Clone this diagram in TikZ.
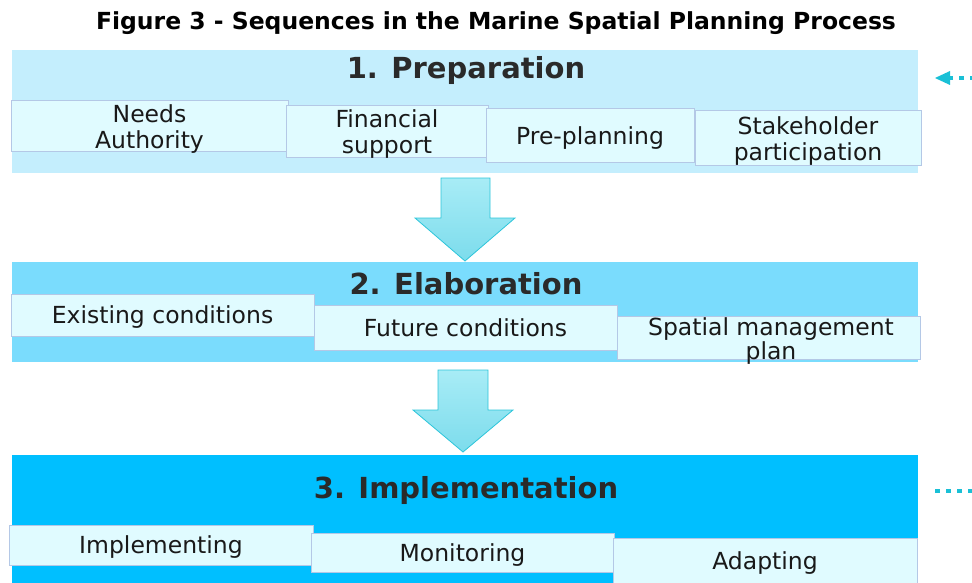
\documentclass[tikz,border=0pt]{standalone}
\usepackage{fontspec}
\setmainfont{DejaVu Sans}
\usetikzlibrary{arrows.meta}

\definecolor{prepblue}{HTML}{C4EEFD}
\definecolor{elabblue}{HTML}{7ADCFD}
\definecolor{implblue}{HTML}{00BFFF}
\definecolor{subfill}{HTML}{E0FBFF}
\definecolor{subline}{HTML}{B4C8E6}
\definecolor{arrowtop}{HTML}{A8ECF6}
\definecolor{arrowbot}{HTML}{7CDCEC}
\definecolor{arrowline}{HTML}{2CC5DA}
\definecolor{dotcyan}{HTML}{1AC0D6}
\definecolor{headgrey}{HTML}{2A2A2A}

\begin{document}
\begin{tikzpicture}[x=1pt, y=-1pt,
	bandstyle/.style={draw=none, inner sep=0pt, anchor=north west},
	headstyle/.style={font=\bfseries\fontsize{29}{33}\selectfont, text=headgrey, inner sep=0pt},
	substyle/.style={fill=subfill, draw=subline, line width=1pt, inner sep=0pt,
	align=center, text=black!90, text depth=0pt, font=\fontsize{23.5}{26}\selectfont},
	downarrow/.style={top color=arrowtop, bottom color=arrowbot, draw=arrowline, line width=0.8pt},
	feedback/.style={draw=dotcyan, line width=4.5pt, dash pattern=on 5pt off 6pt}
	]
	\useasboundingbox (0,0) rectangle (972,583);
	
	% title
	\node[font=\bfseries\fontsize{23.5}{26}\selectfont, inner sep=0pt] (title) at (496,23)
	{Figure 3 - Sequences in the Marine Spatial Planning Process};
	
	% 1. preparation
	\node[bandstyle, fill=prepblue, minimum width=906pt, minimum height=123pt] (prep) at (12,50) {};
	\node[headstyle] (preptitle) at (466,71) {1. Preparation};
	\node[substyle, minimum width=277pt, minimum height=51pt] (needs) at (149.5,126.5) {Needs\\Authority};
	\node[substyle, minimum width=202pt, minimum height=52pt] (finance) at (387,132) {Financial\\support};
	\node[substyle, minimum width=208pt, minimum height=54pt] (preplan) at (590,136) {Pre-planning};
	\node[substyle, minimum width=226pt, minimum height=55pt] (stake) at (808,138.5) {Stakeholder\\participation};
	
	% 2. elaboration
	\node[bandstyle, fill=elabblue, minimum width=906pt, minimum height=100pt] (elab) at (12,262) {};
	\node[headstyle] (elabtitle) at (466,284) {2. Elaboration};
	\node[substyle, minimum width=303pt, minimum height=42pt] (existing) at (162.5,315) {Existing conditions};
	\node[substyle, minimum width=303pt, minimum height=45pt] (future) at (465.5,327.5) {Future conditions};
	\node[substyle, minimum width=303pt, minimum height=43pt] (spatial) at (768.5,337.5) {};
	\node[align=center, text=black!90, font=\fontsize{23.5}{24}\selectfont, inner sep=0pt] (spatialtext) at (771,341)
	{Spatial management\\plan};
	
	% 3. implementation
	\node[bandstyle, fill=implblue, minimum width=906pt, minimum height=128pt] (impl) at (12,455) {};
	\node[headstyle] (impltitle) at (466,490) {3. Implementation};
	\node[substyle, minimum width=304pt, minimum height=40pt] (implementing) at (161,545) {Implementing};
	\node[substyle, minimum width=303pt, minimum height=39pt] (monitor) at (462.5,552.5) {Monitoring};
	\node[substyle, minimum width=304pt, minimum height=45pt] (adapt) at (765,560.5) {Adapting};
	
	% arrows between stages
	\shade[downarrow] (441,178) -- (490,178) -- (490,218) -- (515,218) -- (465,261)
	-- (415,218) -- (441,218) -- cycle;
	\shade[downarrow] (438,370) -- (488,370) -- (488,410) -- (513,410) -- (463,452)
	-- (413,410) -- (438,410) -- cycle;
	
	% feedback dots
	\coordinate (feedin) at (975,78);
	\coordinate (feedend) at (935,78);
	\draw[feedback, -{Triangle[length=15pt, width=14pt, line width=0pt]}] (feedin) -- (feedend);
	\coordinate (loopstart) at (935,491);
	\coordinate (loopend) at (975,491);
	\draw[feedback] (loopstart) -- (loopend);
\end{tikzpicture}
\end{document}
